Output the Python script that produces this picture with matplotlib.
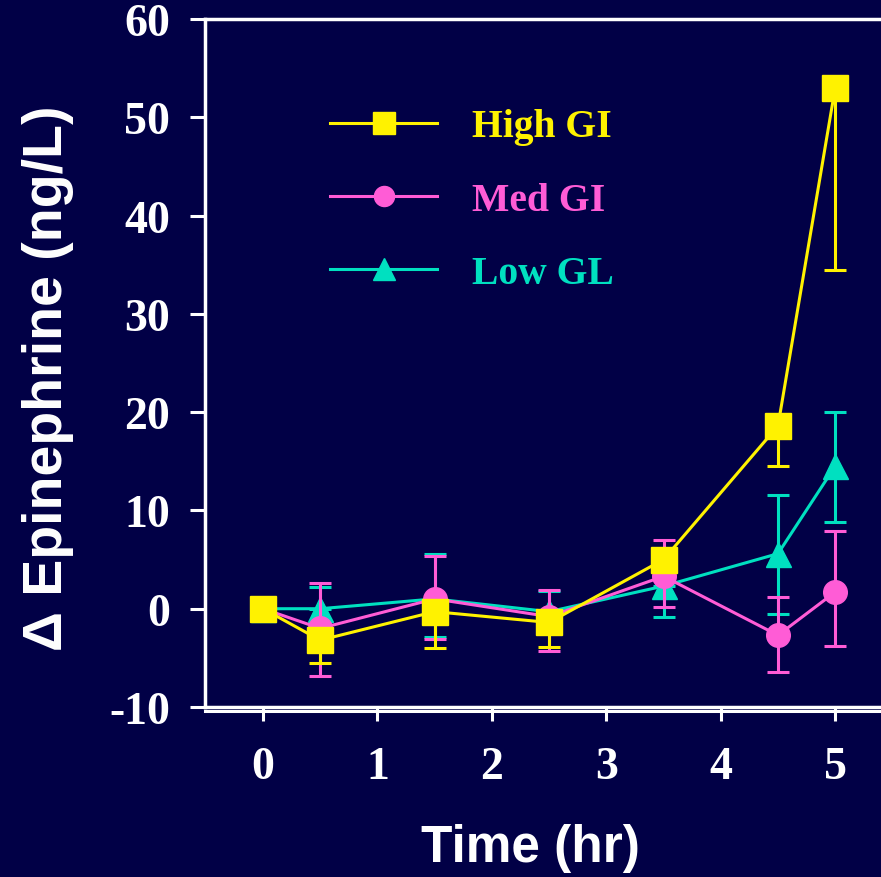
import numpy as np
import matplotlib
matplotlib.use('Agg')
import matplotlib.pyplot as plt

plt.rcParams['axes.unicode_minus'] = False

# Datos
hours = [0, 0.5, 1.5, 2.5, 3.5, 4.5, 5]
xticks = [0, 1, 2, 3, 4, 5]
yticks = [-10, 0, 10, 20, 30, 40, 50, 60]

high_gi = [0, -3.2, -0.3, -1.4, 5.0, 18.6, 53.0]
high_lo = [0, 2.3, 3.7, 2.5, 0, 4.1, 18.5]
high_hi = [0, 0, 0, 0, 0, 0, 0]

med_gi = [0, -2.0, 1.0, -0.8, 3.3, -2.7, 1.7]
med_lo = [0, 4.8, 4.1, 3.5, 3.1, 3.7, 5.5]
med_hi = [0, 4.6, 4.4, 2.7, 3.7, 3.9, 6.2]

low_gl = [0, 0, 1.0, -0.3, 2.3, 5.6, 14.5]
low_lo = [0, 0, 3.9, 0, 3.1, 6.1, 5.7]
low_hi = [0, 2.2, 4.6, 2.1, 0, 6.0, 5.5]

bg = '#010046'
yellow = '#FFF200'
pink = '#FF5CD6'
cyan = '#00E0C0'

serif = 'Liberation Serif'
sans = 'Liberation Sans'

fig = plt.figure(figsize=(8.81, 8.78), dpi=100, facecolor=bg)
ax = fig.add_axes([205 / 881, 1 - 708 / 878, 0.78, 688 / 878])
ax.set_facecolor(bg)

series = [
    (low_gl, low_lo, low_hi, cyan, '^', 'Low GL', 18, 2),
    (med_gi, med_lo, med_hi, pink, 'o', 'Med GI', 17, 3),
    (high_gi, high_lo, high_hi, yellow, 's', 'High GI', 19, 4),
]
handles = {}
for y, lo, hi, col, mk, lab, ms, z in series:
    ax.errorbar(hours, y, yerr=[lo, hi], fmt='none', ecolor=col,
                elinewidth=2.2, capsize=8, capthick=2.2, zorder=z)
    h, = ax.plot(hours, y, color=col, lw=2.2, marker=mk, ms=ms,
                 mfc=col, mec=col, label=lab, zorder=z + 0.5)
    handles[lab] = h

# doble linea inferior
ax.plot([0, 1], [-0.006, -0.006], transform=ax.transAxes, color='white',
        lw=2.2, clip_on=False)

ax.set_xlim(-0.507, 5.498)
ax.set_ylim(-10, 60)
ax.set_xticks(xticks)
ax.set_yticks(yticks)

for s in ['left', 'top', 'bottom', 'right']:
    ax.spines[s].set_color('white')
    ax.spines[s].set_linewidth(2.5)

ax.tick_params(axis='both', colors='white', direction='out', width=2.2)
ax.tick_params(axis='y', length=11, pad=14)
ax.tick_params(axis='x', length=10, pad=18)
for lbl in ax.get_xticklabels() + ax.get_yticklabels():
    lbl.set_fontfamily(serif)
    lbl.set_fontweight('bold')
    lbl.set_fontsize(33)
    lbl.set_color('white')

ax.set_xlabel('Time (hr)', fontfamily=sans, fontweight='bold',
              fontsize=37, color='white')
ax.xaxis.set_label_coords(0.474, -0.168)
ax.set_ylabel('\u0394 Epinephrine (ng/L)', fontfamily=sans, fontweight='bold',
              fontsize=40, color='white')
ax.yaxis.set_label_coords(-0.19, 0.48)

leg = ax.legend([handles['High GI'], handles['Med GI'], handles['Low GL']],
                ['High GI', 'Med GI', 'Low GL'],
                loc='upper left', bbox_to_anchor=(0.182, 0.87),
                frameon=False, borderpad=0, borderaxespad=0,
                handlelength=2.7, handletextpad=0.88, labelspacing=0.92,
                markerscale=0.85, labelcolor='linecolor',
                prop={'family': serif, 'weight': 'bold', 'size': 28.5})

plt.savefig('out.png', dpi=100, facecolor=bg)
